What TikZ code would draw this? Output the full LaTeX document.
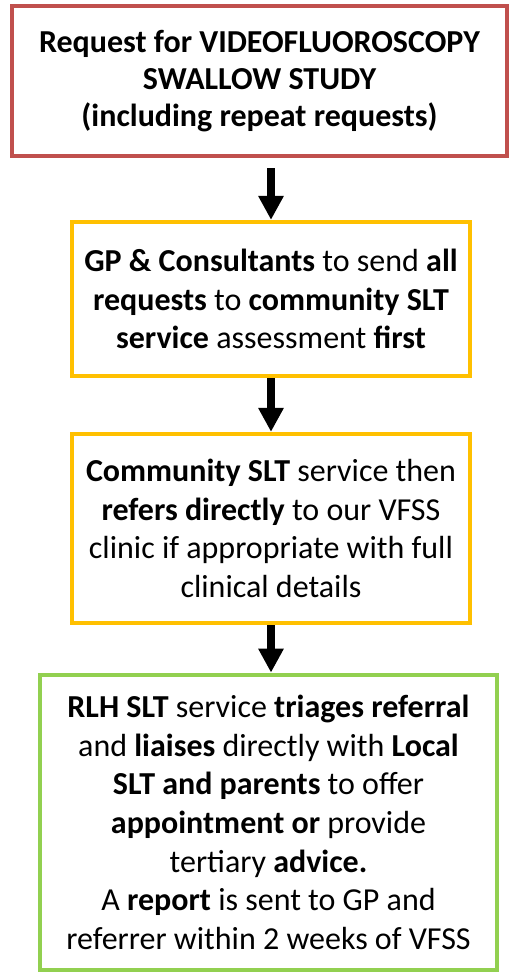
\documentclass[tikz,border=0pt]{standalone}
\usepackage{fontspec}
\setmainfont{Carlito}
\usetikzlibrary{arrows.meta,positioning}
\definecolor{vfRed}{HTML}{C0504D}
\definecolor{vfGold}{HTML}{FFC000}
\definecolor{vfGreen}{HTML}{92D050}
\tikzset{
  stage/.style   ={draw,line width=3.2pt,fill=white,align=center,inner sep=0pt,
                   font=\fontsize{24}{29}\selectfont},
  reqbox/.style  ={stage,draw=vfRed,minimum width=371.25pt,minimum height=112.5pt,
                   font=\bfseries\fontsize{24}{28}\selectfont},
  slt/.style     ={stage,draw=vfGold,minimum width=298.5pt},
  triage/.style  ={stage,draw=vfGreen,line width=3.6pt,minimum width=342.75pt,
                   minimum height=221.25pt},
  down/.style    ={-{Triangle[length=18pt,width=18pt]},line width=6pt,black},
}
\begin{document}
\begin{tikzpicture}[x=0.75pt,y=-0.75pt]
\useasboundingbox (0,0) rectangle (509,973);

\node[reqbox] (req) at (259.5,81)
  {Request for VIDEOFLUOROSCOPY\\SWALLOW STUDY\\(including repeat requests)};

\node[slt,minimum height=115.5pt] (gp) at (271,299)
  {\textbf{GP \& Consultants} to send \textbf{all}\\
   \textbf{requests} to \textbf{community SLT}\\
   \textbf{service} assessment \textbf{first}};

\node[slt,minimum height=141.75pt] (comm) at (271,528.5)
  {\textbf{Community SLT} service then\\
   \textbf{refers directly} to our VFSS\\
   clinic if appropriate with full\\
   clinical details};

\node[triage] (rlh) at (268.5,822.5)
  {\textbf{RLH SLT} service \textbf{triages referral}\\
   and \textbf{liaises} directly with \textbf{Local}\\
   \textbf{SLT and parents} to offer\\
   \textbf{appointment or} provide\\
   tertiary \textbf{advice.}\\
   A \textbf{report} is sent to GP and\\
   referrer within 2 weeks of VFSS};

% flow
\draw[down,shorten <=7.5pt] (req.south -| gp.north) -- (gp.north);
\draw[down] (gp.south) -- (comm.north);
\draw[down] (comm.south) -- (comm.south |- rlh.north);
\end{tikzpicture}
\end{document}
